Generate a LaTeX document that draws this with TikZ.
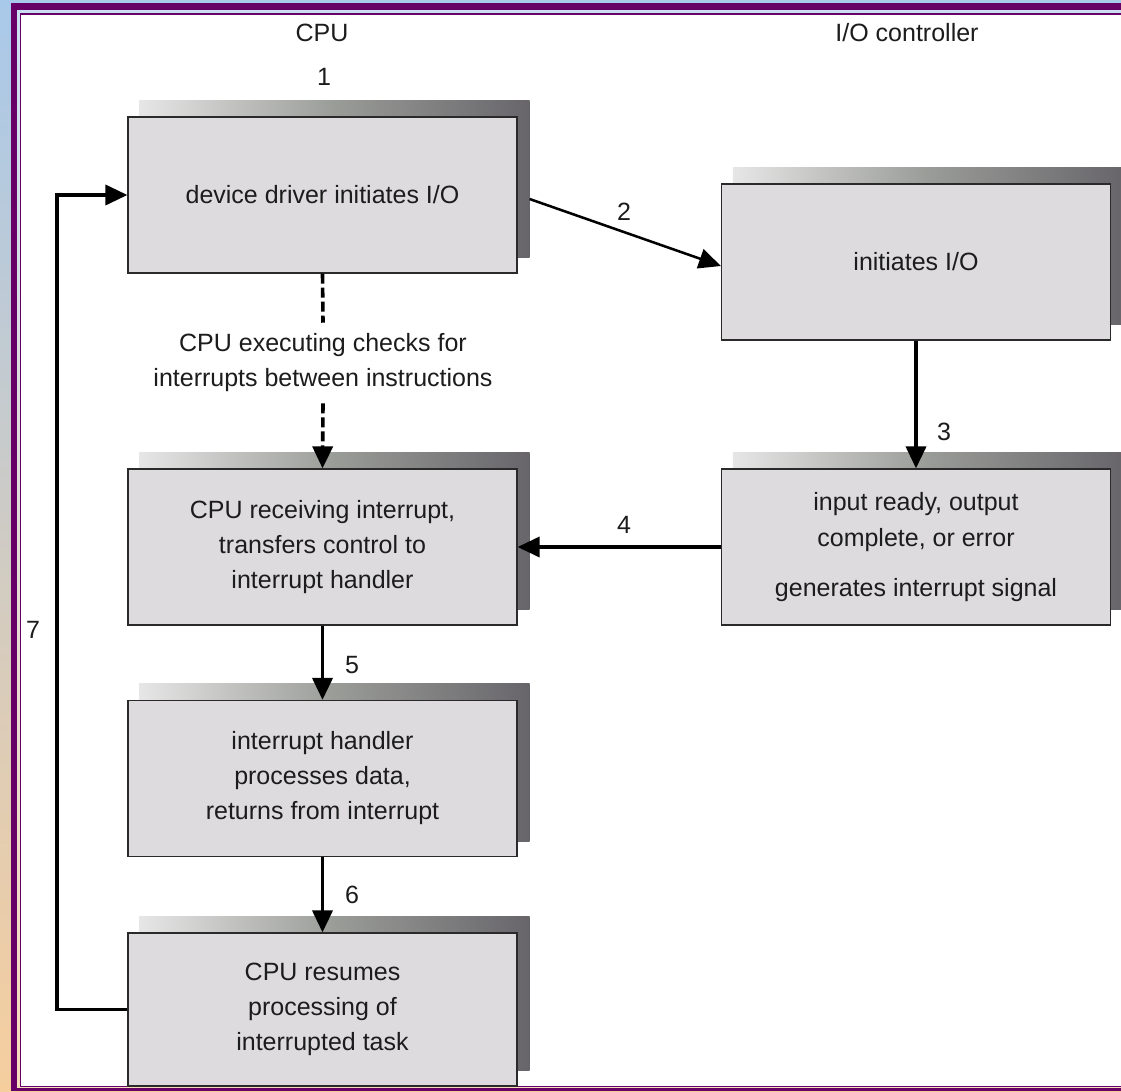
\documentclass[tikz,border=0pt]{standalone}
\usepackage{fontspec}
\setmainfont{Liberation Sans}
\usetikzlibrary{arrows.meta}
\definecolor{purp}{HTML}{660066}
\definecolor{bgtop}{HTML}{A9C9EA}
\definecolor{bgbot}{HTML}{F6CE9E}
\definecolor{boxfill}{HTML}{DDDBDE}
\definecolor{boxline}{HTML}{2A2A2A}
\definecolor{txt}{HTML}{1C1C1C}
\definecolor{shA}{HTML}{E6E6E6}
\definecolor{shB}{HTML}{9A9C98}
\definecolor{shC}{HTML}{67656A}
\pgfdeclarelayer{bglayer}
\pgfdeclarelayer{shadowlayer}
\pgfsetlayers{bglayer,shadowlayer,main}
\tikzset{
  box/.style={draw=boxline, line width=0.9pt, fill=boxfill, minimum width=291.75pt,
    minimum height=117pt, inner sep=0pt, align=center, text=txt,
    font=\fontsize{18.75pt}{26.25pt}\selectfont},
  lbl/.style={text=txt, inner sep=0pt, font=\fontsize{18.75pt}{26.25pt}\selectfont},
  tip/.style={-{Triangle[length=16.5pt,width=15pt]}},
  conn/.style={line width=2.7pt, black},
  thinconn/.style={line width=1.9pt, black},
  dashconn/.style={line width=2.7pt, black, dash pattern=on 7.5pt off 3pt},
  shadowfill/.style={left color=shA, right color=shC, middle color=shB}
}
\newcommand{\boxshadow}[1]{%
  \begin{pgfonlayer}{shadowlayer}
    \shade[shadowfill] ([shift={(12,-16)}]#1.south west) rectangle ([shift={(12,-16)}]#1.north east);
  \end{pgfonlayer}}
\begin{document}
\begin{tikzpicture}[x=0.75pt,y=-0.75pt]
\useasboundingbox (0,0) rectangle (1121,1092);
\begin{pgfonlayer}{bglayer}
  \clip (0,0) rectangle (1121,1092);
  \shade[top color=bgtop, bottom color=bgbot] (0,0) rectangle (1121,1092);
  \fill[purp] (11,3) rectangle (1135,1091);
  \shade[top color=bgtop!60!white, bottom color=bgbot!70!white] (17,10) rectangle (1135,1087);
  \fill[purp] (19.5,12.5) rectangle (1135,1087);
  \fill[white] (21,15) rectangle (1135,1086);
\end{pgfonlayer}

% boxes
\node[box] (b1) at (322.5,195) {device driver initiates I/O};
\node[box] (b2) at (916,262) {initiates I/O};
\node[box] (b3) at (322.5,547) {CPU receiving interrupt,\\transfers control to\\interrupt handler};
\node[box, font=\fontsize{18.75pt}{27pt}\selectfont] (b4) at (916,547) {input ready, output\\complete, or error\\[10.5pt]generates interrupt signal};
\node[box] (b5) at (322.5,778.5) {interrupt handler\\processes data,\\returns from interrupt};
\node[box, minimum height=114.75pt] (b6) at (322.5,1009.5) {CPU resumes\\processing of\\interrupted task};

\boxshadow{b1}
\boxshadow{b2}
\boxshadow{b3}
\boxshadow{b4}
\boxshadow{b5}
\boxshadow{b6}

% middle text
\node[lbl, align=center, minimum height=60pt] (chk) at (323,363) {CPU executing checks for\\interrupts between instructions};

% headers and labels
\node[lbl] (hcpu) at (322,33) {CPU};
\node[lbl] (hio) at (907,33) {I/O controller};
\node[lbl] (n1) at (324,77) {1};
\node[lbl] (n2) at (624,212) {2};
\node[lbl] (n3) at (944,432) {3};
\node[lbl] (n4) at (624,525) {4};
\node[lbl] (n5) at (352,665) {5};
\node[lbl] (n6) at (352,895) {6};
\node[lbl] (n7) at (33,630) {7};

% connectors
\coordinate (c7) at (57,600);
\draw[dashconn] (b1.south) -- (chk.north);
\draw[dashconn, tip] (chk.south) -- (b3.north);
\draw[thinconn, tip] ([shift={(12,4)}]b1.east) -- ([shift={(0,4)}]b2.west);
\draw[conn, tip] (b2.south) -- (b4.north);
\draw[conn, tip] (b4.west) -- (b3.east);
\draw[conn, tip] (b3.south) -- (b5.north);
\draw[conn, tip] (b5.south) -- (b6.north);
\draw[conn, tip] (b6.west) -- (b6.west -| c7) -- (b1.west -| c7) -- (b1.west);
\end{tikzpicture}
\end{document}
